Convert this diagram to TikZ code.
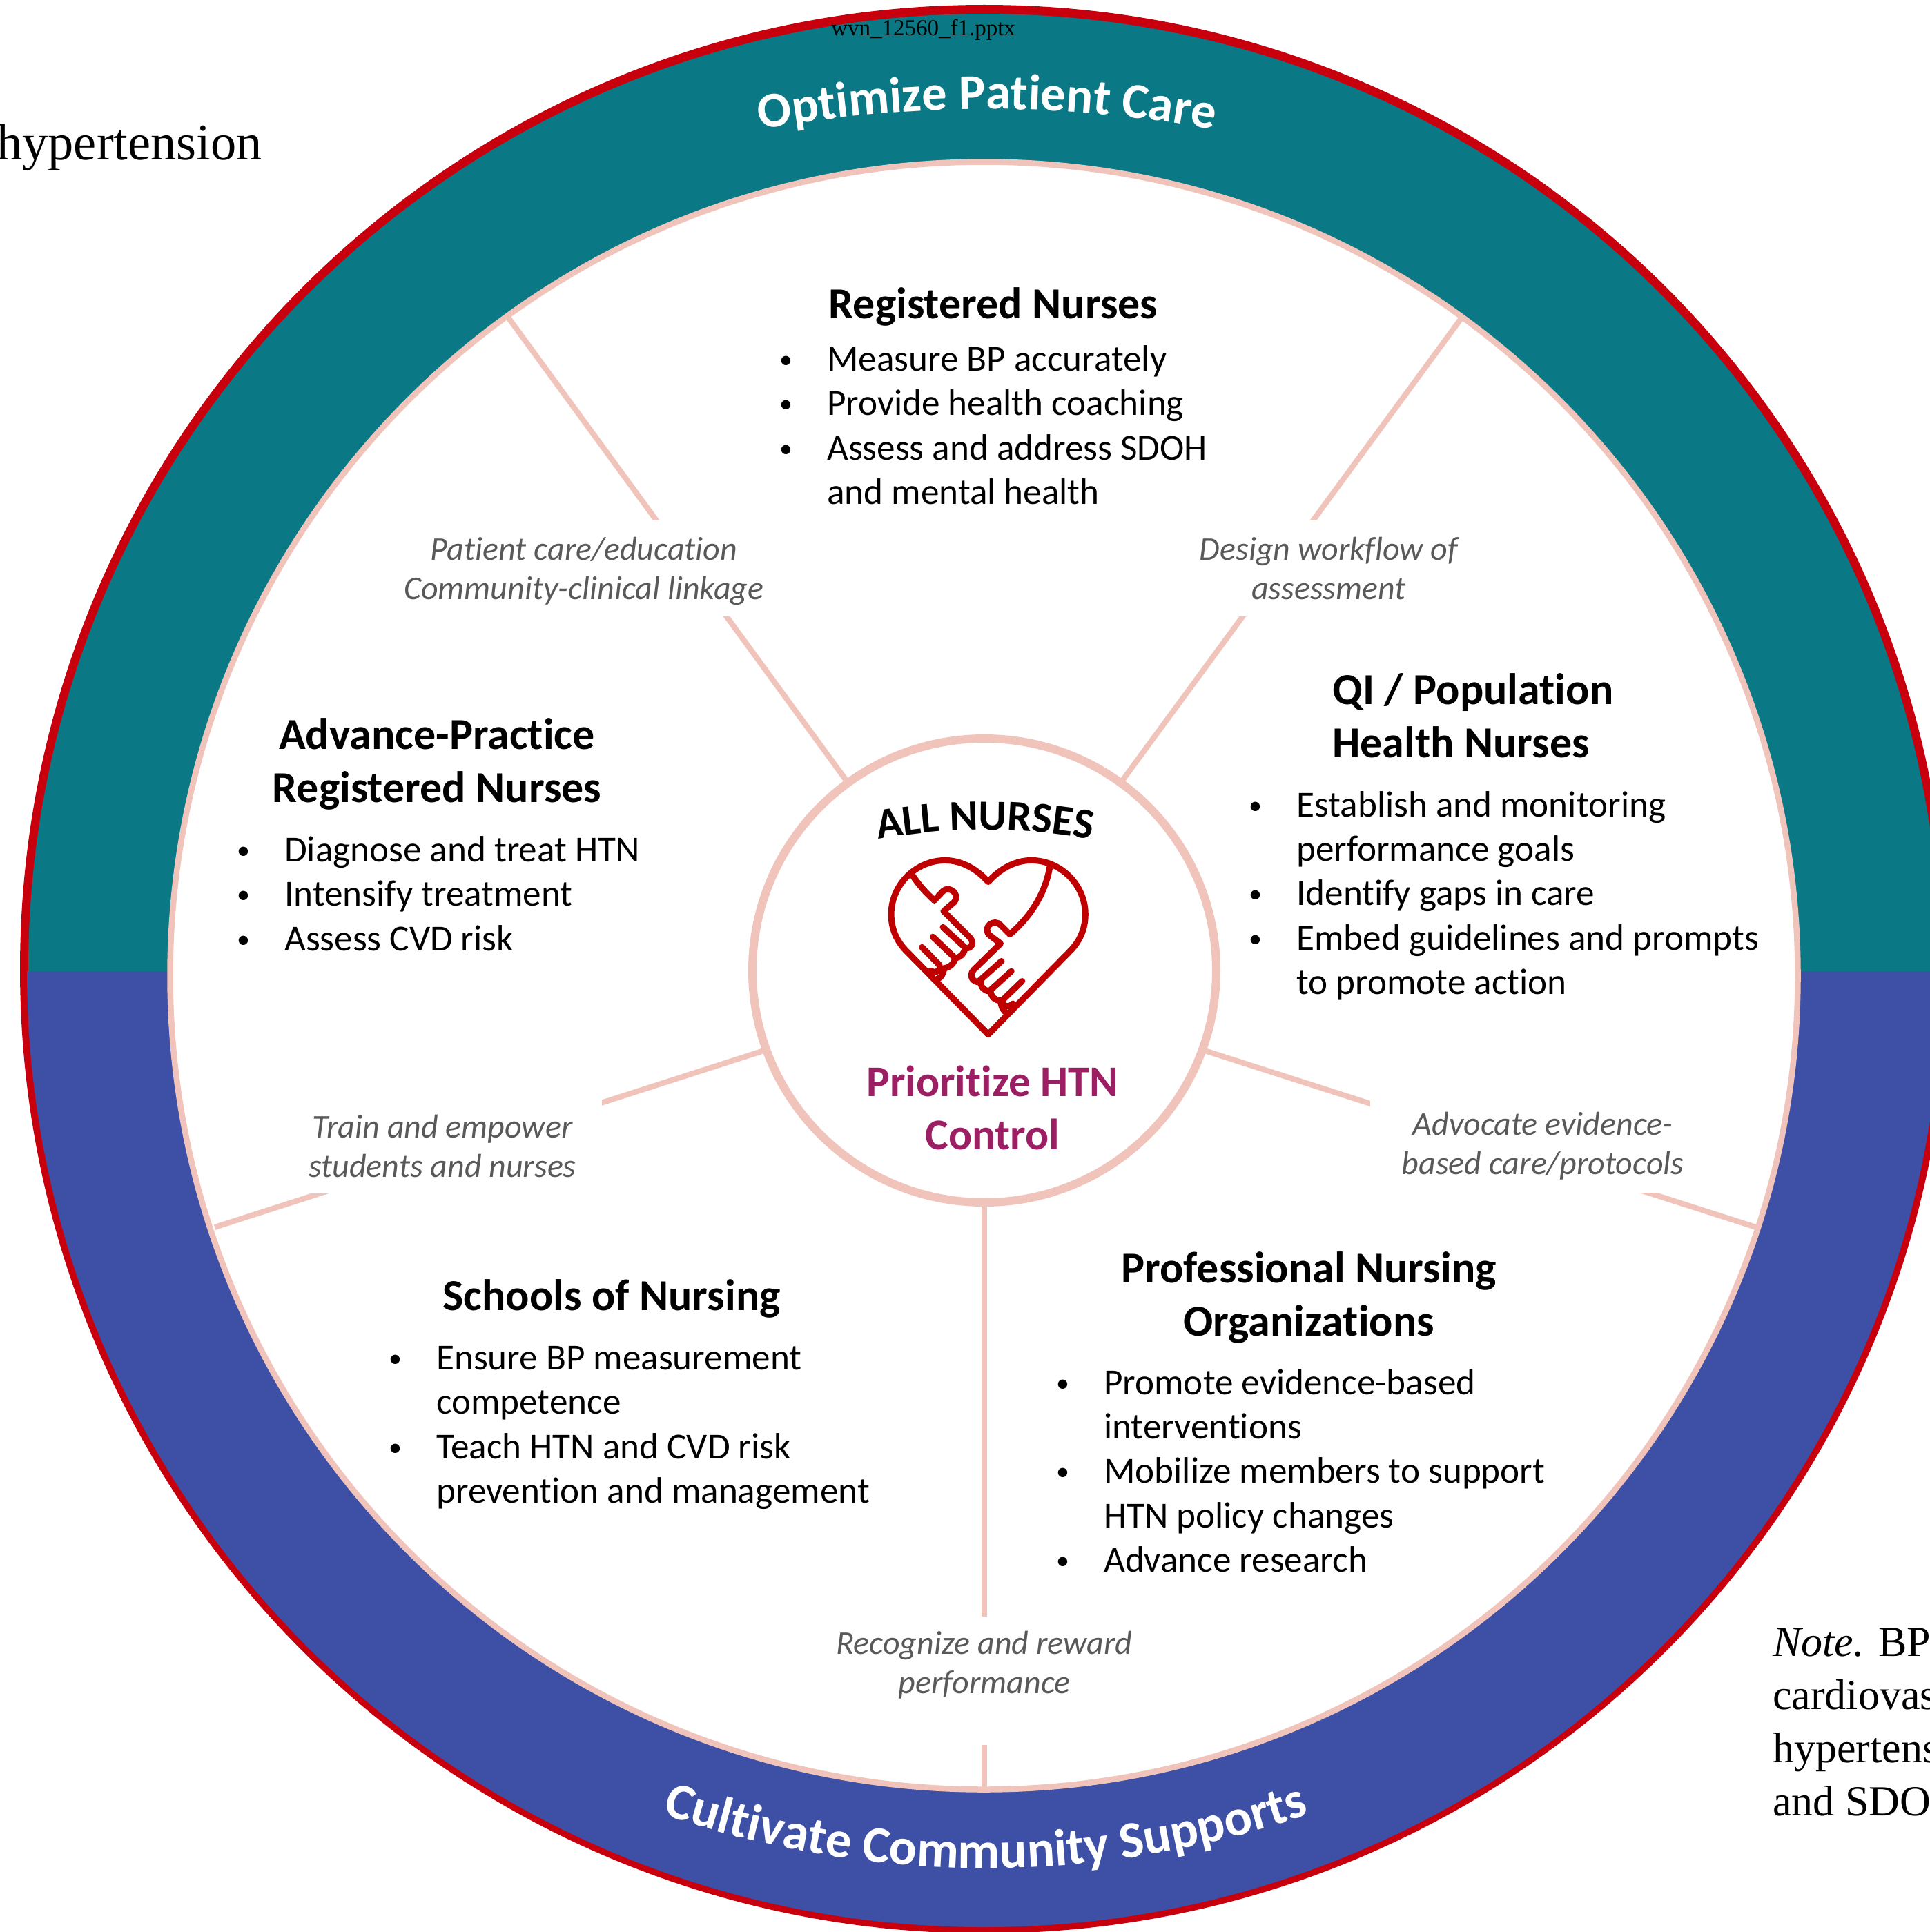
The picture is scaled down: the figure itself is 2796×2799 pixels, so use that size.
\documentclass[tikz,border=0pt]{standalone}
\usepackage{fontspec}
\setmainfont{Carlito}[Ligatures=NoCommon]
\newfontfamily\tms{Liberation Serif}
\newfontfamily\wa{Carlito}[Ligatures=NoCommon]
\usetikzlibrary{decorations.text}
\definecolor{ringred}{HTML}{C8000E}
\definecolor{tealc}{HTML}{0A7985}
\definecolor{bluec}{HTML}{3D50A6}
\definecolor{pinkc}{HTML}{F1C4BB}
\definecolor{purpc}{HTML}{9C1F64}
\definecolor{heartc}{HTML}{C00000}
\definecolor{labc}{HTML}{595959}
\newcommand{\bl}{\makebox[71pt][l]{\hspace*{2pt}\raisebox{4pt}{\fontsize{38}{38}\selectfont\textbullet}}\strut}
\newcommand{\nb}{\hspace*{71pt}\strut}
\newcommand{\lineup}[1]{\rule{0pt}{#1pt}}
\newcommand{\linedn}{\rule[-15pt]{0pt}{15pt}}
\tikzset{
  titlefont/.style={font=\fontsize{64}{77}\selectfont\bfseries,inner sep=0pt},
  bodytext/.style={font=\fontsize{53.2}{64.3}\selectfont,align=left,anchor=west,inner sep=0pt},
  spokelabel/.style={font=\fontsize{48}{57}\selectfont\itshape,text=labc,align=center,fill=white,inner sep=0pt},
  spoke/.style={draw=pinkc,line width=8pt},
  serifnote/.style={font=\fontsize{62}{77}\selectfont\tms,anchor=base west,inner sep=0pt},
  handline/.style={draw=heartc,line width=9pt,line join=round,line cap=round}
}
\begin{document}
\begin{tikzpicture}[x=1pt,y=-1pt]
\useasboundingbox (0,0) rectangle (2796,2799);
\clip (0,0) rectangle (2796,2799);
% outer ring
\fill[ringred] (1426,1404) circle[radius=1397pt];
\begin{scope}
  \clip (0,0) rectangle (2900,1407);
  \fill[tealc] (1426,1405) circle[radius=1385pt];
\end{scope}
\begin{scope}
  \clip (0,1407) rectangle (2900,2900);
  \fill[bluec] (1426,1405) circle[radius=1387pt];
\end{scope}
% inner disc
\draw[pinkc,fill=white,line width=8.5pt] (1425.5,1413.5) circle[radius=1179pt];
% hub
\node[circle,draw=pinkc,fill=white,line width=12pt,minimum size=672pt,inner sep=0pt,outer sep=0pt] (hub) at (1426,1406) {};
% free ends of spokes
\coordinate (ptl) at (737,461);
\coordinate (ptr) at (2117,461);
\coordinate (pbl) at (311,1778);
\coordinate (pbr) at (2544,1778);
\coordinate (pb) at (1426,2590);
\coordinate (recgap) at (1426,2528);
\draw[spoke] (hub.126) -- (ptl);
\draw[spoke] (hub.54) -- (ptr);
\draw[spoke] (hub.200) -- (pbl);
\draw[spoke] (hub.340) -- (pbr);
\draw[spoke] (recgap) -- (pb);
% spoke labels
\node[spokelabel,minimum height=140pt] (l1) at (846,823) {\lineup{49}Patient care/education\\Community-clinical linkage\linedn};
\node[spokelabel,minimum height=140pt] (l2) at (1925,823) {\lineup{49}Design workflow of\\assessment\linedn};
\node[spokelabel,minimum height=136pt,minimum width=462pt] (l3) at (641,1661) {\lineup{47}Train and empower\\students and nurses\linedn};
\node[spokelabel,minimum height=134pt,minimum width=500pt] (l4) at (2235,1661) {\lineup{39}Advocate evidence-\\based care/protocols\linedn};
\node[spokelabel,minimum height=140pt] (l5) at (1426,2412) {Recognize and reward\\performance};
\draw[spoke] (hub.south) -- (l5.north);
% titles
\node[titlefont] (t1) at (1439,444) {Registered Nurses};
\node[titlefont,align=center] (t2) at (633,1107) {Advance-Practice\\Registered Nurses};
\node[titlefont,align=left,anchor=west] (t3) at (1930,1037) {QI / Population\\Health Nurses};
\node[titlefont] (t4) at (886,1881) {Schools of Nursing};
\node[titlefont,align=center] (t5) at (1896,1880) {Professional Nursing\\Organizations};
% bodies
\node[bodytext] (b1) at (1127,621) {\bl Measure BP accurately\\\bl Provide health coaching\\\bl Assess and address SDOH\\\nb and mental health};
\node[bodytext] (b2) at (341,1300) {\bl Diagnose and treat HTN\\\bl Intensify treatment\\\bl Assess CVD risk};
\node[bodytext] (b3) at (1807,1299) {\bl Establish and monitoring\\\nb performance goals\\\bl Identify gaps in care\\\bl Embed guidelines and prompts\\\nb to promote action};
\node[bodytext] (b4) at (561,2068) {\bl Ensure BP measurement\\\nb competence\\\bl Teach HTN and CVD risk\\\nb prevention and management};
\node[bodytext] (b5) at (1528,2136) {\bl Promote evidence-based\\\nb interventions\\\bl Mobilize members to support\\\nb HTN policy changes\\\bl Advance research};
% hub texts
\node[font=\fontsize{63.5}{77}\selectfont\bfseries,text=purpc,align=center,inner sep=0pt] (prio) at (1438,1605) {Prioritize HTN\\Control};
\coordinate (a1) at (1262,1218); \coordinate (a2) at (1372,1197); \coordinate (a2b) at (1482,1197); \coordinate (a3) at (1592,1218);
\path[decorate,decoration={text along path,text align=center,text={|\fontsize{62.5}{70}\selectfont\bfseries\color{black}|ALL NURSES}}] (a1) .. controls (a2) and (a2b) .. (a3);
% ring texts
\coordinate (o1) at (1085,191); \coordinate (o2) at (1315,147); \coordinate (o2b) at (1545,147); \coordinate (o3) at (1775,191);
\path[decorate,decoration={text along path,text align=center,text={|\fontsize{72.5}{80}\wa\selectfont\bfseries\color{white}|Optimize Patient Care}}] (o1) .. controls (o2) and (o2b) .. (o3);
\coordinate (c1) at (931,2619); \coordinate (c2) at (1262,2736); \coordinate (c2b) at (1594,2736); \coordinate (c3) at (1925,2619);
\path[decorate,decoration={text along path,text align=center,text={|\fontsize{75}{80}\wa\selectfont\bfseries\color{white}|Cultivate Community Supports}}] (c1) .. controls (c2) and (c2b) .. (c3);
% heart icon
\begin{scope}[shift={(1050,1050)},x=0.4464pt,y=-0.4464pt]
  \draw[handline] (855,1005) -- (590,735) .. controls (560,705) and (540,665) .. (540,615)
    .. controls (540,520) and (620,440) .. (715,440) .. controls (770,440) and (820,470) .. (855,510)
    .. controls (890,470) and (940,440) .. (995,440) .. controls (1090,440) and (1170,520) .. (1170,615)
    .. controls (1170,665) and (1150,705) .. (1120,735) -- cycle;
  % left hand
  \draw[handline] (610,490) .. controls (630,520) and (655,548) .. (680,570) -- (708,540)
    .. controls (725,522) and (765,545) .. (745,575) -- (710,605) -- (795,690)
    .. controls (812,708) and (800,728) .. (780,725) .. controls (775,745) and (765,755) .. (748,757)
    .. controls (742,778) and (730,788) .. (712,790) .. controls (708,812) and (700,822) .. (690,825);
  \draw[handline] (708,657) -- (782,725);
  \draw[handline] (675,688) -- (745,755);
  \draw[handline] (640,722) -- (695,778) .. controls (705,795) and (685,810) .. (668,798);
  % right hand
  \draw[handline] (1055,460) .. controls (1040,550) and (990,625) .. (925,680) -- (895,650)
    .. controls (875,628) and (835,655) .. (858,682) -- (895,710) -- (808,795)
    .. controls (790,815) and (805,838) .. (830,835) .. controls (832,855) and (845,865) .. (862,865)
    .. controls (866,885) and (878,895) .. (895,895) .. controls (897,918) and (905,930) .. (915,935);
  \draw[handline] (898,767) -- (825,832);
  \draw[handline] (930,800) -- (860,863);
  \draw[handline] (965,832) -- (905,890) .. controls (895,905) and (915,925) .. (935,905);
\end{scope}
% stray texts
\node[font=\fontsize{33}{38}\selectfont\tms,anchor=base west,inner sep=0pt] (file) at (1204,52) {wvn\_12560\_f1.pptx};
\node[serifnote,font=\fontsize{74.5}{80}\selectfont\tms] (hyp) at (-5,232) {hypertension};
\node[serifnote] (n1) at (2568,2399) {\textit{Note.} BP};
\node[serifnote] (n2) at (2568,2476) {cardiovas};
\node[serifnote] (n3) at (2568,2553) {hypertens};
\node[serifnote] (n4) at (2568,2630) {and SDO};
\end{tikzpicture}
\end{document}
